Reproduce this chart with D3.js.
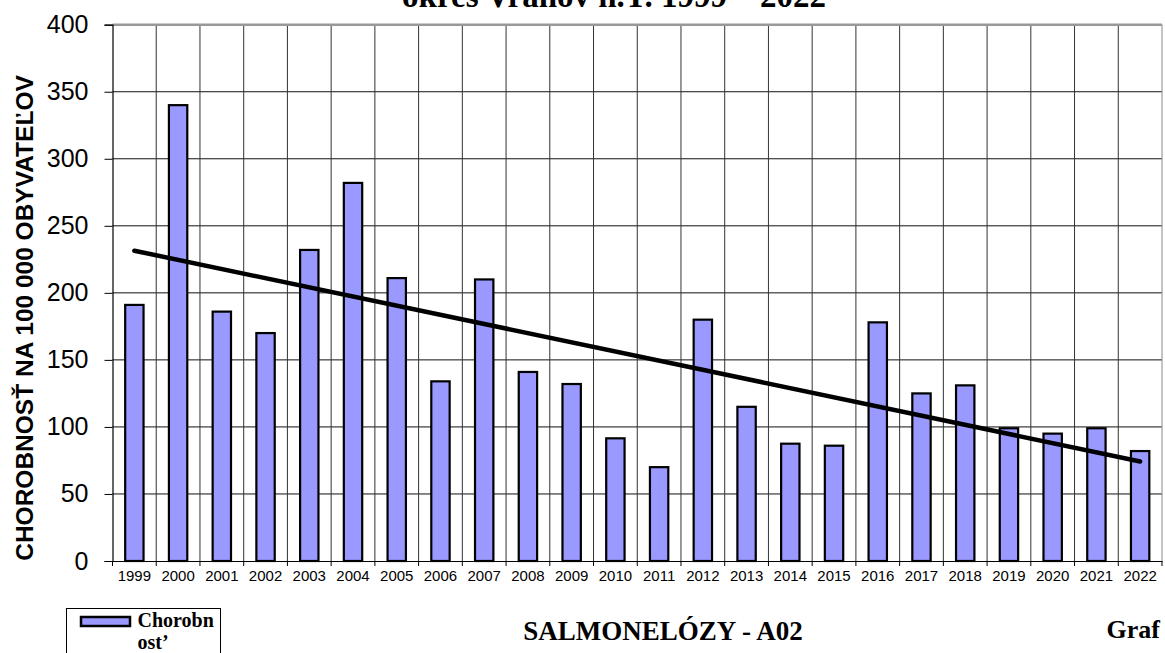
<!DOCTYPE html>
<html>
<head>
<meta charset="utf-8">
<script src="https://cdn.jsdelivr.net/npm/d3@7"></script>
<style>
  html, body { margin: 0; padding: 0; background: #fff; }
  svg { display: block; }
</style>
</head>
<body>
<svg id="chart" width="1165" height="653"></svg>
<script>
const years = ["1999","2000","2001","2002","2003","2004","2005","2006","2007","2008","2009","2010","2011","2012","2013","2014","2015","2016","2017","2018","2019","2020","2021","2022"];
const values = [191, 340, 186, 170, 232, 282, 211, 134, 210, 141, 132, 91.5, 70, 180, 115, 87.5, 86, 178, 125, 131, 99, 95, 99, 82];
const yTicks = [0, 50, 100, 150, 200, 250, 300, 350, 400];
const titleText = "okres Vranov n.T. 1999 – 2022";
const subTitle = "SALMONELÓZY - A02";
const yLabel = "CHOROBNOSŤ NA 100 000 OBYVATEĽOV";
const legendLines = ["Chorobn", "ost’"];
const cornerText = "Graf";

const svg = d3.select("#chart");
const L = 112.5, R = 1162, T = 24.7, B = 561;

const x = d3.scaleBand().domain(years).range([L, R]).paddingInner(0).paddingOuter(0);
const y = d3.scaleLinear().domain([0, 400]).range([B, T]);
const bw = x.bandwidth() * 0.42;

// horizontal gridlines
svg.append("g").selectAll("line").data(yTicks.filter(d => d > 0 && d < 400)).join("line")
  .attr("x1", L).attr("x2", R).attr("y1", d => y(d)).attr("y2", d => y(d))
  .attr("stroke", "#111").attr("stroke-width", 1);

// vertical gridlines at category boundaries
const bounds = years.map(d => x(d)).slice(1).concat([R]);
svg.append("g").selectAll("line").data(bounds).join("line")
  .attr("x1", d => d).attr("x2", d => d).attr("y1", T).attr("y2", B)
  .attr("stroke", d => d === R ? "#888" : "#333").attr("stroke-width", 1);

// top border
svg.append("line").attr("x1", L).attr("x2", R).attr("y1", y(400)).attr("y2", y(400))
  .attr("stroke", "#999").attr("stroke-width", 2.5);

// bars
svg.append("g").selectAll("rect").data(values).join("rect")
  .attr("x", (d, i) => x(years[i]) + x.bandwidth() / 2 - bw / 2)
  .attr("width", bw)
  .attr("y", d => y(d))
  .attr("height", d => B - y(d))
  .attr("fill", "#9999FF").attr("stroke", "#000").attr("stroke-width", 2.2);

// y axis
const yAxis = d3.axisLeft(y).tickValues(yTicks).tickSize(8).tickPadding(16);
const gy = svg.append("g").attr("transform", `translate(${L},0)`).call(yAxis);
gy.select(".domain").attr("stroke", "#000").attr("stroke-width", 1.2);
gy.selectAll(".tick line").attr("stroke", "#000");
gy.selectAll("text").attr("font-family", "Liberation Sans, Arial, sans-serif").attr("font-size", 25).attr("fill", "#000");

// x axis
const xAxis = d3.axisBottom(x).tickSize(0).tickPadding(9);
const gx = svg.append("g").attr("transform", `translate(0,${B})`).call(xAxis);
gx.select(".domain").attr("stroke", "#000").attr("stroke-width", 1.2);
gx.selectAll("text").attr("font-family", "Liberation Sans, Arial, sans-serif").attr("font-size", 15).attr("fill", "#000");
svg.append("g").selectAll("line").data([L].concat(bounds)).join("line")
  .attr("x1", d => d).attr("x2", d => d).attr("y1", B).attr("y2", B + 5)
  .attr("stroke", "#000").attr("stroke-width", 1);

// linear trend (least squares)
const n = values.length;
const xs = d3.range(n);
const mx = d3.mean(xs), my = d3.mean(values);
const slope = d3.sum(xs, i => (i - mx) * (values[i] - my)) / d3.sum(xs, i => (i - mx) ** 2);
const icpt = my - slope * mx;
const cx = i => x(years[i]) + x.bandwidth() / 2;
svg.append("line")
  .attr("x1", cx(0)).attr("y1", y(icpt))
  .attr("x2", cx(n - 1)).attr("y2", y(icpt + slope * (n - 1)))
  .attr("stroke", "#000").attr("stroke-width", 4.5).attr("stroke-linecap", "round");

// titles
svg.append("text").attr("x", 614).attr("y", 7).attr("text-anchor", "middle")
  .attr("font-family", "Liberation Serif, Times New Roman, serif").attr("font-weight", "bold")
  .attr("font-size", 33).text(titleText);
svg.append("text").attr("x", 663).attr("y", 640).attr("text-anchor", "middle")
  .attr("font-family", "Liberation Serif, Times New Roman, serif").attr("font-weight", "bold")
  .attr("font-size", 27).text(subTitle);
svg.append("text").attr("x", 1160).attr("y", 638).attr("text-anchor", "end")
  .attr("font-family", "Liberation Serif, Times New Roman, serif").attr("font-weight", "bold")
  .attr("font-size", 26).text(cornerText);

// y label
svg.append("text").attr("transform", "translate(33,318) rotate(-90)").attr("text-anchor", "middle")
  .attr("font-family", "Liberation Sans, Arial, sans-serif").attr("font-weight", "bold")
  .attr("font-size", 24.5).text(yLabel);

// legend
const lg = svg.append("g");
lg.append("rect").attr("x", 66.5).attr("y", 608.5).attr("width", 154).attr("height", 60)
  .attr("fill", "#fff").attr("stroke", "#000").attr("stroke-width", 1);
lg.append("rect").attr("x", 81).attr("y", 617).attr("width", 49).attr("height", 9)
  .attr("fill", "#9999FF").attr("stroke", "#000").attr("stroke-width", 2.5);
lg.selectAll("text.l").data(legendLines).join("text").attr("class", "l")
  .attr("x", 137.5).attr("y", (d, i) => 627 + i * 22)
  .attr("font-family", "Liberation Serif, Times New Roman, serif").attr("font-weight", "bold")
  .attr("font-size", 20).text(d => d);
</script>
</body>
</html>
